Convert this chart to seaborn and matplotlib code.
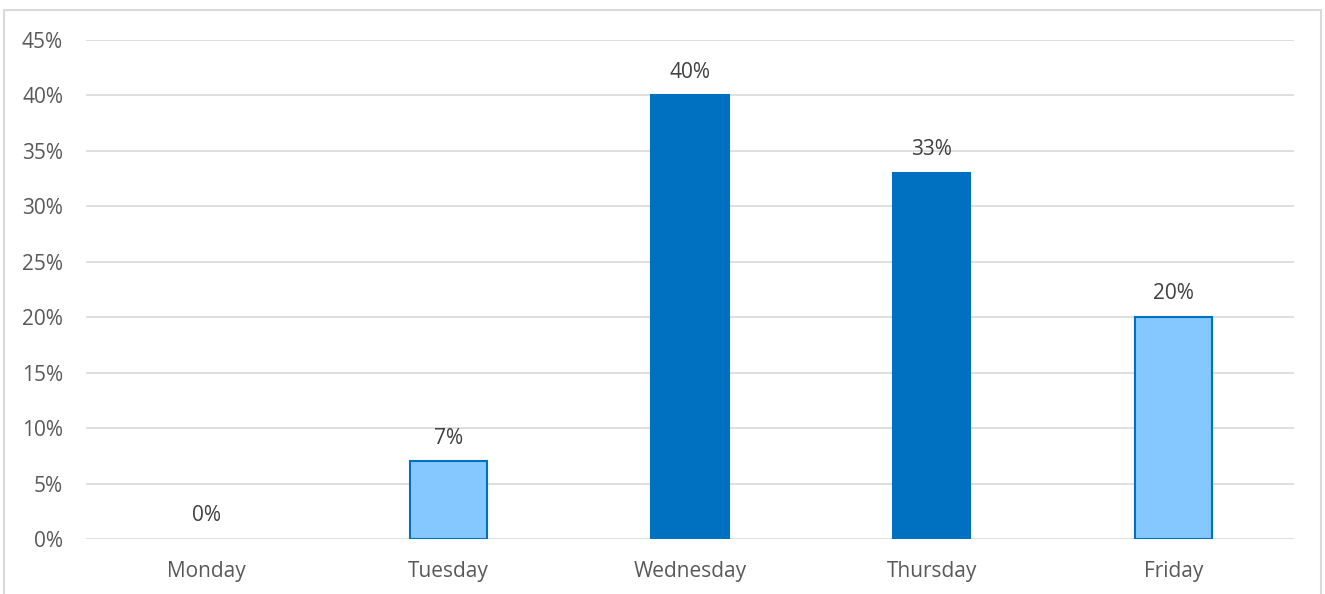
import matplotlib
matplotlib.use("Agg")
import matplotlib.pyplot as plt
import seaborn as sns
import pandas as pd
from matplotlib.patches import Rectangle
from matplotlib.ticker import FuncFormatter, MultipleLocator

days = ["Monday", "Tuesday", "Wednesday", "Thursday", "Friday"]
values = [0, 7, 40, 33, 20]
bar_colors = ["#85C7FF", "#85C7FF", "#0070C0", "#0070C0", "#85C7FF"]

sns.set_style("white")
plt.rcParams['font.family'] = ['Open Sans', 'DejaVu Sans']

df = pd.DataFrame({"day": days, "value": values})

fig = plt.figure(figsize=(13.25, 5.94), dpi=100)
ax = fig.add_axes([86/1325, 1-539/594, (1294-86)/1325, (539-40)/594])

sns.barplot(data=df, x="day", y="value", hue="day", palette=dict(zip(days, bar_colors)),
            saturation=1, width=0.32, edgecolor="#0070C0", linewidth=1.5,
            legend=False, ax=ax, zorder=3)
for p in ax.patches:
    if p.get_height() == 0:
        p.set_visible(False)

ax.set_ylim(0, 45)
ax.set_xlim(-0.5, 4.5)
ax.yaxis.set_major_locator(MultipleLocator(5))
ax.yaxis.set_major_formatter(FuncFormatter(lambda v, p: f"{v:.0f}%"))
ax.grid(axis="y", color="#D9D9D9", linewidth=1.2, zorder=0)
ax.set_axisbelow(True)
for s in ax.spines.values():
    s.set_visible(False)
ax.set_xlabel("")
ax.set_ylabel("")
ax.tick_params(axis="both", length=0, labelsize=15, labelcolor="#595959")
ax.tick_params(axis="y", pad=16.5)
ax.tick_params(axis="x", pad=15.5)

for i, v in enumerate(values):
    ax.text(i, v + 1.15, f"{v}%", ha="center", va="bottom", fontsize=15, color="#404040")

fig.patches.append(Rectangle((4/1325, -0.1), (1321-4)/1325, 1.1 - 10/594,
                             transform=fig.transFigure, fill=False,
                             edgecolor="#D9D9D9", linewidth=1.5))

fig.savefig("out.png", dpi=100)
